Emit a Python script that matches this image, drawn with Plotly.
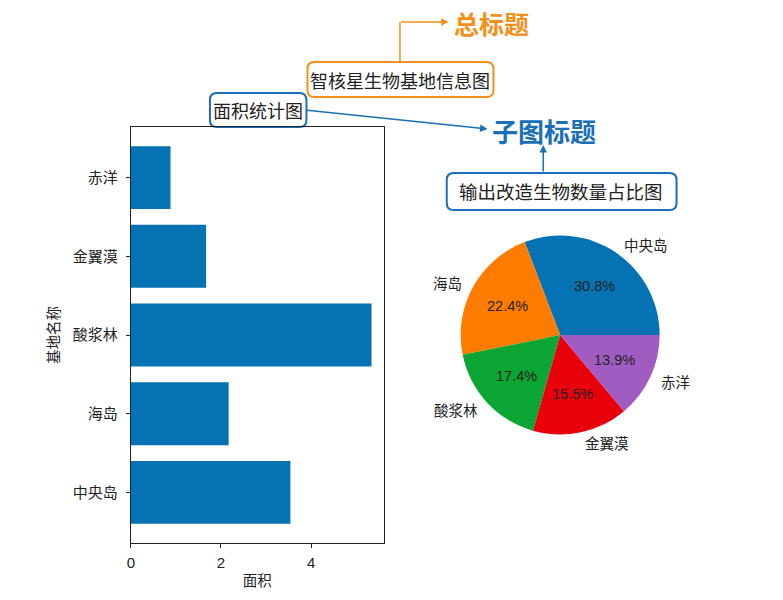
import math
import plotly.graph_objects as go

# ---- data ----
bases = ["中央岛", "海岛", "酸浆林", "金翼漠", "赤洋"]
areas = [3.54, 2.17, 5.34, 1.67, 0.88]
pie_values = [30.8, 22.4, 17.4, 15.5, 13.9]
pie_colors = ["#0572B4", "#FF7C00", "#0AA532", "#E8000B", "#A05CC0"]
bar_color = "#0572B4"
x_ticks = [0, 2, 4]

main_title = "智核星生物基地信息图"
main_note = "总标题"
bar_title = "面积统计图"
pie_title = "输出改造生物数量占比图"
sub_note = "子图标题"
x_label = "面积"
y_label = "基地名称"

W, H = 783, 600
FONT = "Liberation Sans, Noto Sans CJK SC, sans-serif"
CJK = "Noto Sans CJK SC, sans-serif"
ORANGE = "#F39019"
BLUE = "#1A6FB8"


def px(x):
    return x / W


def py(y):
    return 1 - y / H


def rrect(x0, y0, x1, y1, r, color):
    rx, ry = r / W, r / H
    X0, X1 = px(x0), px(x1)
    Y0, Y1 = py(y0), py(y1)  # Y0 top (larger), Y1 bottom
    path = (
        f"M {X0+rx},{Y0} L {X1-rx},{Y0} Q {X1},{Y0} {X1},{Y0-ry} "
        f"L {X1},{Y1+ry} Q {X1},{Y1} {X1-rx},{Y1} "
        f"L {X0+rx},{Y1} Q {X0},{Y1} {X0},{Y1+ry} "
        f"L {X0},{Y0-ry} Q {X0},{Y0} {X0+rx},{Y0} Z"
    )
    return dict(type="path", path=path, xref="paper", yref="paper",
                line=dict(color=color, width=2), fillcolor="white", layer="below")


def arrow(hx, hy, tx, ty, color):
    return dict(x=px(hx), y=py(hy), xref="paper", yref="paper", text="", showarrow=True,
                ax=tx - hx, ay=ty - hy, axref="pixel", ayref="pixel",
                arrowhead=2, arrowsize=1, arrowwidth=1.5, arrowcolor=color)


def label(x, y, text, size, color="#222222", family=CJK, xanchor="center"):
    return dict(x=px(x), y=py(y), xref="paper", yref="paper", text=text,
                showarrow=False, xanchor=xanchor, yanchor="middle",
                font=dict(family=family, size=size, color=color))


fig = go.Figure()

# bar chart
fig.add_trace(go.Bar(
    x=areas, y=bases, orientation="h", marker=dict(color=bar_color, line=dict(width=0)),
    width=0.8, xaxis="x", yaxis="y", showlegend=False, hoverinfo="x+y",
))

# pie chart (matplotlib style: first wedge starts at 3 o'clock, counterclockwise)
pie_cx, pie_cy, pie_r = 559, 335, 100
total = sum(pie_values)
fig.add_trace(go.Pie(
    labels=bases, values=pie_values, sort=False, direction="counterclockwise",
    rotation=90 - pie_values[0] / total * 360,
    marker=dict(colors=pie_colors, line=dict(width=0)),
    textinfo="none", showlegend=False, hole=0,
    domain=dict(x=[px(pie_cx - pie_r), px(pie_cx + pie_r)],
                y=[py(pie_cy + pie_r), py(pie_cy - pie_r)]),
))

annotations = []
cum = 0.0
for lab, v in zip(bases, pie_values):
    mid = (cum + v / 2) / total * 2 * math.pi
    cum += v
    c, s = math.cos(mid), math.sin(mid)
    lx, ly = pie_cx + 1.1 * pie_r * c, pie_cy - 1.1 * pie_r * s
    annotations.append(label(lx, ly, lab, 14.5, xanchor="left" if c > 0 else "right"))
    tx, ty = pie_cx + 0.6 * pie_r * c, pie_cy - 0.6 * pie_r * s
    annotations.append(label(tx, ty, f"{v / total * 100:.1f}%", 14.5, family=FONT))

shapes = []
# boxed titles
shapes.append(rrect(305, 62, 492, 97, 7, ORANGE))
shapes.append(rrect(207, 93, 304, 127, 7, BLUE))
shapes.append(rrect(445, 173, 676, 210, 7, BLUE))
# orange elbow line (vertical part)
shapes.append(dict(type="line", xref="paper", yref="paper",
                   x0=px(398), y0=py(62), x1=px(398), y1=py(22),
                   line=dict(color=ORANGE, width=1.5)))

annotations += [
    label(398.5, 79.5, main_title, 18),
    label(255.5, 110, bar_title, 18),
    label(560, 191.5, pie_title, 18.5),
    label(490, 23, f"<b>{main_note}</b>", 25, color=ORANGE),
    label(542.5, 131, f"<b>{sub_note}</b>", 26, color=BLUE),
    arrow(447, 22, 398, 22, ORANGE),
    arrow(486, 129, 304, 110, BLUE),
    arrow(542, 145, 542, 173, BLUE),
]

fig.update_layout(
    width=W, height=H, margin=dict(l=0, r=0, t=0, b=0),
    paper_bgcolor="white", plot_bgcolor="white",
    font=dict(family=FONT, size=14, color="#222222"),
    xaxis=dict(domain=[px(127.5), px(381.5)], range=[0, max(areas) * 1.05],
               tickvals=x_ticks, ticks="outside", ticklen=4, tickcolor="#222",
               showline=True, mirror=True, linecolor="#222", linewidth=1,
               showgrid=False, zeroline=False, ticklabelstandoff=2,
               tickfont=dict(family=FONT, size=15),
               title=dict(text=x_label, font=dict(family=CJK, size=14.5), standoff=6)),
    yaxis=dict(domain=[py(542.7), py(127.3)], range=[-0.64, 4.64],
               ticks="outside", ticklen=4, tickcolor="#222",
               showline=True, mirror=True, linecolor="#222", linewidth=1,
               showgrid=False, zeroline=False, ticklabelstandoff=5,
               tickfont=dict(family=CJK, size=15),
               title=dict(text=y_label, font=dict(family=CJK, size=14.5), standoff=9)),
    shapes=shapes, annotations=annotations,
)

fig.write_html("out.html")
